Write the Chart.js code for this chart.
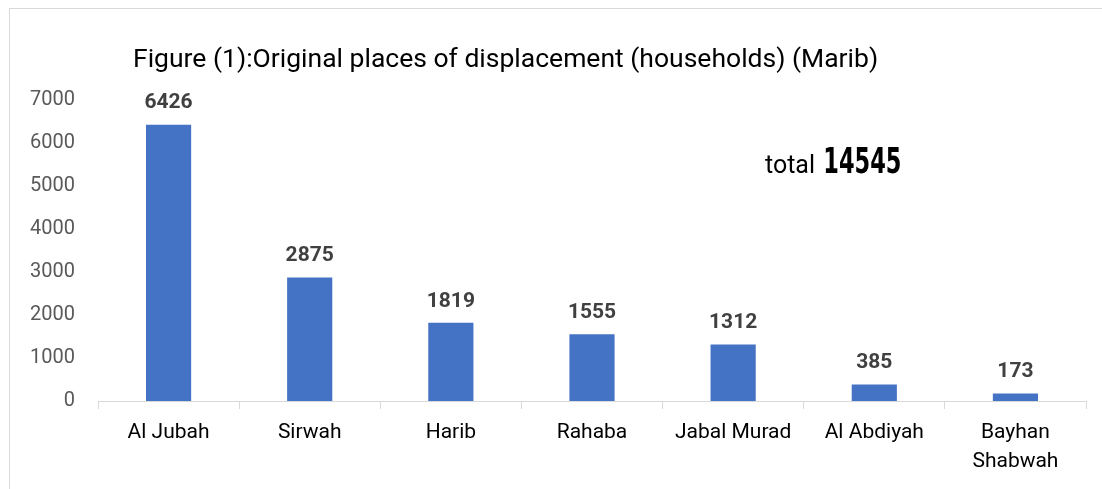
<!DOCTYPE html>
<html>
<head>
<meta charset="utf-8">
<script src="https://cdn.jsdelivr.net/npm/chart.js@4.4.0/dist/chart.umd.min.js"></script>
<style>
  html, body { margin: 0; padding: 0; background: #fff; }
  #wrap { position: relative; width: 1102px; height: 489px; overflow: hidden; }
  #frame { position: absolute; left: 9px; top: 8px; width: 1102px; height: 500px;
           border-left: 1px solid #d9d9d9; border-top: 1px solid #d9d9d9; box-sizing: border-box; }
  canvas { position: absolute; left: 0; top: 0; }
</style>
</head>
<body>
<div id="wrap">
  <div id="frame"></div>
  <canvas id="c" width="1102" height="489"></canvas>
</div>
<script>
const categories = ["Al Jubah", "Sirwah", "Harib", "Rahaba", "Jabal Murad", "Al Abdiyah", ["Bayhan", "Shabwah"]];
const households = [6426, 2875, 1819, 1555, 1312, 385, 173];
const yTicks = [0, 1000, 2000, 3000, 4000, 5000, 6000, 7000];
const titleText = "Figure (1):Original places of displacement (households) (Marib)";
const totalLabel = "total";
const totalValue = "14545";

const FONT = "Roboto, 'Liberation Sans', sans-serif";

const labelPlugin = {
  id: 'valueLabels',
  afterDatasetsDraw(chart) {
    const ctx = chart.ctx;
    const meta = chart.getDatasetMeta(0);
    ctx.save();
    ctx.font = "bold 21px " + FONT;
    ctx.fillStyle = "#404040";
    ctx.textAlign = "center";
    ctx.textBaseline = "bottom";
    meta.data.forEach((bar, i) => {
      ctx.fillText(String(households[i]), bar.x, bar.y - 11);
    });
    ctx.restore();
  }
};

const textPlugin = {
  id: 'texts',
  afterDraw(chart) {
    const ctx = chart.ctx;
    ctx.save();
    ctx.fillStyle = "#000";
    ctx.textBaseline = "alphabetic";
    ctx.textAlign = "left";
    ctx.font = "26.5px " + FONT;
    ctx.fillText(titleText, 133, 67);
    ctx.font = "25px " + FONT;
    ctx.fillText(totalLabel, 765, 173);
    const w = ctx.measureText(totalLabel + " ").width;
    ctx.translate(765 + w + 2, 173);
    ctx.scale(1, 1.4);
    ctx.font = "bold 25px 'DejaVu Sans Condensed', 'DejaVu Sans', sans-serif";
    ctx.fillText(totalValue, 0, 0);
    ctx.restore();
  }
};

new Chart(document.getElementById('c'), {
  type: 'bar',
  data: {
    labels: categories,
    datasets: [{
      data: households,
      backgroundColor: '#4472C4',
      borderWidth: 0,
      categoryPercentage: 1,
      barPercentage: 0.32
    }]
  },
  options: {
    responsive: false,
    animation: false,
    devicePixelRatio: 1,
    layout: { padding: { left: 10, top: 100, right: 16, bottom: 0 } },
    plugins: { legend: { display: false }, title: { display: false }, tooltip: { enabled: false } },
    scales: {
      x: {
        grid: { offset: true, drawOnChartArea: false, drawTicks: true, tickLength: 8, color: '#d9d9d9' },
        border: { display: true, color: '#d9d9d9', width: 1 },
        ticks: { color: '#000', font: { family: FONT, size: 21, lineHeight: 1.35 }, padding: 10, maxRotation: 0, autoSkip: false },
        afterFit(scale) { scale.height = 88; }
      },
      y: {
        min: 0, max: 7000,
        afterBuildTicks(scale) { scale.ticks = yTicks.map(v => ({ value: v })); },
        grid: { display: false, drawTicks: false },
        border: { display: false },
        ticks: { color: '#595959', font: { family: FONT, size: 20 }, padding: 23, callback: v => String(v) },
        afterFit(scale) { scale.width = 88; }
      }
    }
  },
  plugins: [labelPlugin, textPlugin]
});
</script>
</body>
</html>
